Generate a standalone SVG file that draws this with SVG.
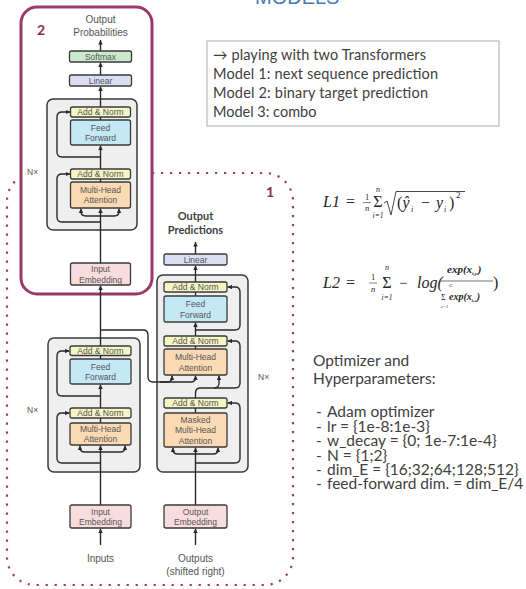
<svg xmlns="http://www.w3.org/2000/svg" width="526" height="589" viewBox="0 0 526 589">
<defs>
  <marker id="ah" viewBox="0 0 6 6" refX="6" refY="3" markerWidth="4.5" markerHeight="4.5" markerUnits="userSpaceOnUse" orient="auto">
    <path d="M0,0 L6,3 L0,6 z" fill="#2a2a2a"/>
  </marker>
</defs>
<style>
  .blk{stroke:#3a3a3a;stroke-width:1.3}
  .an{fill:#f4f6c4}
  .ff{fill:#c4e8f6}
  .mha{fill:#fcdab4}
  .lin{fill:#dcdff3}
  .sm{fill:#cde9cb}
  .emb{fill:#f9dcdd}
  .stack{fill:#efefef;stroke:#3a3a3a;stroke-width:1.5}
  .bl{font-family:"Liberation Sans",Arial,sans-serif;font-size:8.5px;fill:#555;text-anchor:middle}
  .cap{font-family:"Liberation Sans",Arial,sans-serif;font-size:10px;fill:#555;text-anchor:middle}
  .nx{font-family:"Liberation Sans",Arial,sans-serif;font-size:8.5px;fill:#555}
  .wire{fill:none;stroke:#2a2a2a;stroke-width:1.4}
  .arr{marker-end:url(#ah)}
  .txt{font-family:Lato,"DejaVu Sans",sans-serif;fill:#404040}
  .m{font-family:"Liberation Serif","DejaVu Serif",serif;fill:#262626}
  .mi{font-family:"Liberation Serif","DejaVu Serif",serif;font-style:italic;fill:#262626}
  .num{font-family:Lato,"Liberation Sans",sans-serif;font-weight:bold;font-size:14px;fill:#8b2b52}
</style>

<rect width="526" height="589" fill="#fff"/>

<!-- heading -->
<text x="255" y="4" font-family="Liberation Sans,Arial,sans-serif" font-size="20" fill="#4a78b8">MODELS</text>

<!-- model 1 region (dotted) and model 2 frame -->
<g id="region1">
  <rect x="7" y="173" width="286" height="412" rx="28" fill="none" stroke="#a3395f" stroke-width="2.2" stroke-dasharray="2.2 6.8"/>
  <text class="num" x="266" y="197">1</text>
</g>
<g id="region2">
  <rect x="21" y="7" width="131" height="287" rx="16" fill="#fff" stroke="#9a3a6a" stroke-width="3"/>
  <text class="num" x="37" y="35">2</text>
</g>

<!-- stack containers -->
<g id="top-stack"><rect class="stack" x="47" y="99" width="90" height="131" rx="6"/><text class="nx" x="27" y="175">N×</text></g>
<g id="enc-stack"><rect class="stack" x="48" y="338" width="92" height="134" rx="6"/><text class="nx" x="27" y="413">N×</text></g>
<g id="dec-stack"><rect class="stack" x="157" y="275" width="91" height="197" rx="6"/><text class="nx" x="258" y="380">N×</text></g>

<!-- connectors -->
<g id="connectors" class="wire">
  <!-- model 2 stack -->
  <path class="arr" d="M100.5 51 V40"/>
  <path class="arr" d="M100.5 75 V62.5"/>
  <path class="arr" d="M100.5 107 V86.5"/>
  <path d="M100.5 120 V117"/>
  <path class="arr" d="M100.5 169 V145.5"/>
  <path d="M100.5 182 V179"/>
  <path class="arr" d="M100.5 263 V208.5"/>
  <path class="arr" d="M100.5 216 H86 Q81 216 81 211.5 V208.5"/>
  <path class="arr" d="M100.5 216 H114 Q119 216 119 211.5 V208.5"/>
  <path class="arr" d="M100.5 222 H62 Q57 222 57 217 V179 Q57 174 62 174 H70"/>
  <path class="arr" d="M100.5 157 H62 Q57 157 57 152 V117 Q57 112 62 112 H70"/>
  <!-- encoder -->
  <path class="arr" d="M100.5 545 V528.5"/>
  <path class="arr" d="M100.5 505 V445.5"/>
  <path class="arr" d="M100.5 452 H85 Q80 452 80 448 V445.5"/>
  <path class="arr" d="M100.5 452 H120 Q125 452 125 448 V445.5"/>
  <path class="arr" d="M100.5 463 H62 Q57 463 57 458 V418 Q57 413 62 413 H69.5"/>
  <path d="M100.5 423 V418"/>
  <path class="arr" d="M100.5 408 V384.5"/>
  <path class="arr" d="M100.5 396 H62 Q57 396 57 391 V356 Q57 351 62 351 H69.5"/>
  <path d="M100.5 359 V355.5"/>
  <path class="arr" d="M100.5 346 V285.5"/>
  <!-- encoder output into decoder attention -->
  <path class="arr" d="M100.5 330 H143 Q148 330 148 335 V377 Q148 382 153 382 H190.5 Q195.5 382 195.5 378 V375.5"/>
  <path class="arr" d="M160 382 H167 Q172 382 172 378 V375.5"/>
  <!-- decoder -->
  <path class="arr" d="M195.5 545 V528.5"/>
  <path class="arr" d="M195.5 505 V447.5"/>
  <path class="arr" d="M195.5 454 H178 Q173 454 173 450 V447.5"/>
  <path class="arr" d="M195.5 454 H213 Q218 454 218 450 V447.5"/>
  <path class="arr" d="M195.5 463 H235 Q240 463 240 458 V408 Q240 403 235 403 H227.5"/>
  <path d="M195.5 413 V408"/>
  <path class="arr" d="M195.5 398 V393 Q195.5 388 200.5 388 H214 Q219 388 219 383 V375.5"/>
  <path class="arr" d="M214 388 H235 Q240 388 240 383 V346 Q240 341 235 341 H227.5"/>
  <path d="M195.5 349 V346"/>
  <path class="arr" d="M195.5 336 V322.5"/>
  <path class="arr" d="M195.5 330 H235 Q240 330 240 325 V292 Q240 287 235 287 H227.5"/>
  <path d="M195.5 296 V292"/>
  <path class="arr" d="M195.5 282 V265.5"/>
  <path class="arr" d="M195.5 254 V242"/>
</g>

<!-- model 2 blocks -->
<text class="cap" x="100.5" y="23">Output</text>
<text class="cap" x="100.5" y="36">Probabilities</text>
<g id="t-softmax"><rect class="blk sm" x="69.5" y="51" width="62" height="11" rx="2"/><text class="bl" x="100.5" y="59.5">Softmax</text></g>
<g id="t-linear"><rect class="blk lin" x="69.5" y="75" width="62" height="11" rx="2"/><text class="bl" x="100.5" y="83.5">Linear</text></g>
<g id="t-addnorm2"><rect class="blk an" x="70.5" y="107" width="60" height="10" rx="2"/><text class="bl" x="100.5" y="115">Add &amp; Norm</text></g>
<g id="t-ff"><rect class="blk ff" x="70.5" y="120" width="60" height="25" rx="2"/><text class="bl" x="100.5" y="130.5">Feed</text><text class="bl" x="100.5" y="141">Forward</text></g>
<g id="t-addnorm1"><rect class="blk an" x="70.5" y="169" width="60" height="10" rx="2"/><text class="bl" x="100.5" y="177">Add &amp; Norm</text></g>
<g id="t-mha"><rect class="blk mha" x="70.5" y="182" width="60" height="26" rx="2"/><text class="bl" x="100.5" y="192.5">Multi-Head</text><text class="bl" x="100.5" y="203">Attention</text></g>
<g id="t-embed"><rect class="blk emb" x="70.5" y="263" width="60" height="22" rx="2"/><text class="bl" x="100.5" y="272">Input</text><text class="bl" x="100.5" y="282.5">Embedding</text></g>

<!-- encoder blocks -->
<g id="e-addnorm2"><rect class="blk an" x="70" y="346" width="61" height="9.5" rx="2"/><text class="bl" x="100.5" y="353.5">Add &amp; Norm</text></g>
<g id="e-ff"><rect class="blk ff" x="70" y="359" width="61" height="25" rx="2"/><text class="bl" x="100.5" y="369.5">Feed</text><text class="bl" x="100.5" y="380">Forward</text></g>
<g id="e-addnorm1"><rect class="blk an" x="70" y="408" width="61" height="10" rx="2"/><text class="bl" x="100.5" y="416">Add &amp; Norm</text></g>
<g id="e-mha"><rect class="blk mha" x="70" y="423" width="61" height="22" rx="2"/><text class="bl" x="100.5" y="432">Multi-Head</text><text class="bl" x="100.5" y="442">Attention</text></g>
<g id="e-embed"><rect class="blk emb" x="70" y="505" width="61" height="23" rx="2"/><text class="bl" x="100.5" y="514.5">Input</text><text class="bl" x="100.5" y="525">Embedding</text></g>
<text class="cap" x="100.5" y="562">Inputs</text>

<!-- decoder blocks -->
<text x="195.5" y="220" text-anchor="middle" font-family="Lato,Liberation Sans,sans-serif" font-weight="bold" font-size="11" fill="#404040">Output</text>
<text x="195.5" y="234" text-anchor="middle" font-family="Lato,Liberation Sans,sans-serif" font-weight="bold" font-size="11" fill="#404040">Predictions</text>
<g id="d-linear"><rect class="blk lin" x="164" y="254" width="63" height="11" rx="2"/><text class="bl" x="195.5" y="262.5">Linear</text></g>
<g id="d-addnorm3"><rect class="blk an" x="164" y="282" width="63" height="10" rx="2"/><text class="bl" x="195.5" y="290">Add &amp; Norm</text></g>
<g id="d-ff"><rect class="blk ff" x="164" y="296" width="63" height="26" rx="2"/><text class="bl" x="195.5" y="306.5">Feed</text><text class="bl" x="195.5" y="317.5">Forward</text></g>
<g id="d-addnorm2"><rect class="blk an" x="164" y="336" width="63" height="10" rx="2"/><text class="bl" x="195.5" y="344">Add &amp; Norm</text></g>
<g id="d-mha"><rect class="blk mha" x="164" y="349" width="63" height="26" rx="2"/><text class="bl" x="195.5" y="359.5">Multi-Head</text><text class="bl" x="195.5" y="370.5">Attention</text></g>
<g id="d-addnorm1"><rect class="blk an" x="164" y="398" width="63" height="10" rx="2"/><text class="bl" x="195.5" y="406">Add &amp; Norm</text></g>
<g id="d-masked"><rect class="blk mha" x="164" y="413" width="63" height="34" rx="2"/><text class="bl" x="195.5" y="422.5">Masked</text><text class="bl" x="195.5" y="433">Multi-Head</text><text class="bl" x="195.5" y="443.5">Attention</text></g>
<g id="d-embed"><rect class="blk emb" x="164" y="505" width="63" height="23" rx="2"/><text class="bl" x="195.5" y="514.5">Output</text><text class="bl" x="195.5" y="525">Embedding</text></g>
<text class="cap" x="195.5" y="562">Outputs</text>
<text class="cap" x="195.5" y="575">(shifted right)</text>

<!-- model summary box -->
<g id="summary">
  <rect x="207" y="41" width="292" height="85" fill="#fff" stroke="#aaaaaa" stroke-width="1"/>
  <text class="txt" font-size="14.5" x="213" y="60" textLength="213">→ playing with two Transformers</text>
  <text class="txt" font-size="14.5" x="213" y="79" textLength="225">Model 1: next sequence prediction</text>
  <text class="txt" font-size="14.5" x="213" y="98" textLength="215">Model 2: binary target prediction</text>
  <text class="txt" font-size="14.5" x="213" y="117">Model 3: combo</text>
</g>

<!-- loss L1 -->
<g id="loss-l1">
  <text class="mi" x="323" y="207" font-size="16">L1</text>
  <text class="m" x="346" y="207" font-size="16">=</text>
  <text class="m" x="367" y="200" font-size="8.5" text-anchor="middle">1</text>
  <line x1="363" y1="202.5" x2="371" y2="202.5" stroke="#333" stroke-width="0.6"/>
  <text class="mi" x="367" y="210.5" font-size="8.5" text-anchor="middle">n</text>
  <text class="m" x="378" y="207" font-size="16" text-anchor="middle">Σ</text>
  <text class="mi" x="378" y="191.5" font-size="8" text-anchor="middle">n</text>
  <text class="mi" x="378" y="217.5" font-size="7.5" text-anchor="middle">i=1</text>
  <path d="M384 203 L387 201 L391 215 L396 191.5 H465" fill="none" stroke="#333" stroke-width="0.9"/>
  <text class="m" x="397" y="207.5" font-size="16">(</text>
  <text class="mi" x="402.5" y="207.5" font-size="16">ŷ</text>
  <text class="mi" x="411" y="211.5" font-size="8">i</text>
  <text class="m" x="421" y="207.5" font-size="16">−</text>
  <text class="mi" x="436" y="207.5" font-size="16">y</text>
  <text class="mi" x="444" y="211.5" font-size="8">i</text>
  <text class="m" x="449" y="207.5" font-size="16">)</text>
  <text class="m" x="456" y="197.5" font-size="9">2</text>
</g>

<!-- loss L2 -->
<g id="loss-l2">
  <text class="mi" x="323" y="288" font-size="16">L2</text>
  <text class="m" x="346" y="288" font-size="16">=</text>
  <text class="m" x="373" y="280" font-size="8.5" text-anchor="middle">1</text>
  <line x1="369" y1="283" x2="377" y2="283" stroke="#333" stroke-width="0.6"/>
  <text class="mi" x="373" y="291.5" font-size="8.5" text-anchor="middle">n</text>
  <text class="m" x="387" y="288" font-size="16" text-anchor="middle">Σ</text>
  <text class="mi" x="387" y="270" font-size="8" text-anchor="middle">n</text>
  <text class="mi" x="387" y="299.5" font-size="7.5" text-anchor="middle">i=1</text>
  <text class="m" x="399" y="288" font-size="15">−</text>
  <text class="mi" x="417" y="288" font-size="16">log(</text>
  <text class="mi" x="447" y="273" font-size="11" font-weight="bold">exp(x<tspan font-size="5" dy="2">i,yᵢ</tspan><tspan dy="-2">)</tspan></text>
  <line x1="440" y1="281" x2="493" y2="281" stroke="#333" stroke-width="0.7"/>
  <text class="mi" x="449" y="287" font-size="5">C</text>
  <text class="m" x="441" y="300" font-size="8">Σ</text>
  <text class="mi" x="449" y="300" font-size="10" font-weight="bold">exp(x<tspan font-size="5" dy="2">i,c</tspan><tspan dy="-2">)</tspan></text>
  <text class="mi" x="441" y="308" font-size="4.5">c=1</text>
  <text class="m" x="493" y="288" font-size="16">)</text>
</g>

<!-- optimizer settings -->
<g id="hyperparams" class="txt" font-size="15.5">
  <text x="313" y="366">Optimizer and</text>
  <text x="313" y="384">Hyperparameters:</text>
  <text y="417"><tspan x="316">-</tspan><tspan x="327">Adam optimizer</tspan></text>
  <text y="432"><tspan x="316">-</tspan><tspan x="327">lr = {1e-8:1e-3}</tspan></text>
  <text y="446"><tspan x="316">-</tspan><tspan x="327">w_decay = {0; 1e-7:1e-4}</tspan></text>
  <text y="461"><tspan x="316">-</tspan><tspan x="327">N = {1;2}</tspan></text>
  <text y="475"><tspan x="316">-</tspan><tspan x="327">dim_E = {16;32;64;128;512}</tspan></text>
  <text y="489"><tspan x="316">-</tspan><tspan x="327">feed-forward dim. = dim_E/4</tspan></text>
</g>
</svg>
